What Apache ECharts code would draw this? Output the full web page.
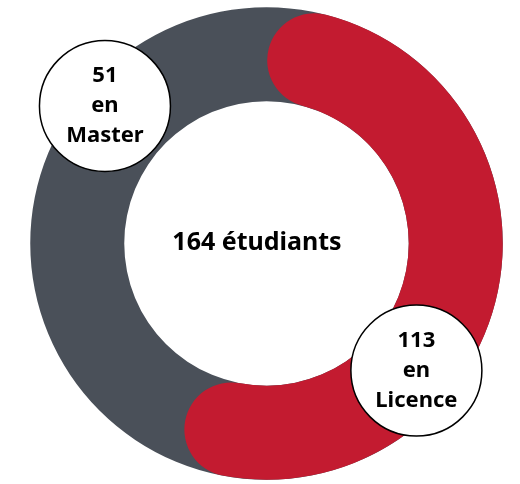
<!DOCTYPE html>
<html>
<head>
<meta charset="utf-8">
<script src="https://cdn.jsdelivr.net/npm/echarts@6/dist/echarts.min.js"></script>
<style>
  html, body { margin: 0; padding: 0; background: #fff; }
  #chart { width: 520px; height: 484px; }
</style>
</head>
<body>
<div id="chart"></div>
<script>
// données
const categories = ['Licence', 'Master']
const students = [113, 51]
const total = 164
const centerLabel = total + ' étudiants'

// placement des bulles (rayon relatif, angle en degrés depuis le haut)
const bubblePos = {
    Licence: [0.831, 130.3],
    Master: [0.897, 310.4]
}

const RED = '#c31b30'
const GREY = '#4a5059'
const FONT = '"Noto Sans", sans-serif'
const center = ['51.25%', '50.3%']

const chart = echarts.init(document.getElementById('chart'))

const option = {
    animation: false,
    polar: [
        { center: center, radius: [142, 236.5] },
        { center: center, radius: [0, 236.5] }
    ],
    angleAxis: [
        { polarIndex: 0, type: 'value', min: 0, max: 231, startAngle: 75.4, clockwise: true, show: false },
        { polarIndex: 1, type: 'value', min: 0, max: 360, startAngle: 90, clockwise: true, show: false }
    ],
    radiusAxis: [
        { polarIndex: 0, type: 'category', data: ['étudiants'], show: false },
        { polarIndex: 1, type: 'value', min: 0, max: 1, show: false }
    ],
    series: [
        {
            type: 'bar',
            coordinateSystem: 'polar',
            polarIndex: 0,
            data: [students[0]],
            barWidth: 94,
            roundCap: true,
            showBackground: true,
            backgroundStyle: { color: GREY, opacity: 1 },
            itemStyle: { color: RED },
            z: 2
        },
        {
            type: 'scatter',
            coordinateSystem: 'polar',
            polarIndex: 1,
            symbol: 'circle',
            symbolSize: 131,
            data: categories.map((c, i) => ({ name: c, value: bubblePos[c], count: students[i] })),
            itemStyle: { color: '#fff', borderColor: '#000', borderWidth: 1.5, opacity: 1 },
            label: {
                show: true,
                position: 'inside',
                formatter: (p) => p.data.count + '\nen\n' + p.name,
                color: '#000',
                fontFamily: FONT,
                fontWeight: 'bold',
                fontSize: 22,
                lineHeight: 30,
                align: 'center'
            },
            emphasis: { disabled: true },
            z: 5
        }
    ],
    graphic: [{
        type: 'text',
        x: 257,
        y: 243,
        style: {
            text: centerLabel,
            fill: '#000',
            font: 'bold 25px ' + FONT,
            textAlign: 'center',
            textVerticalAlign: 'middle'
        },
        z: 10
    }]
}

chart.setOption(option)
</script>
</body>
</html>
